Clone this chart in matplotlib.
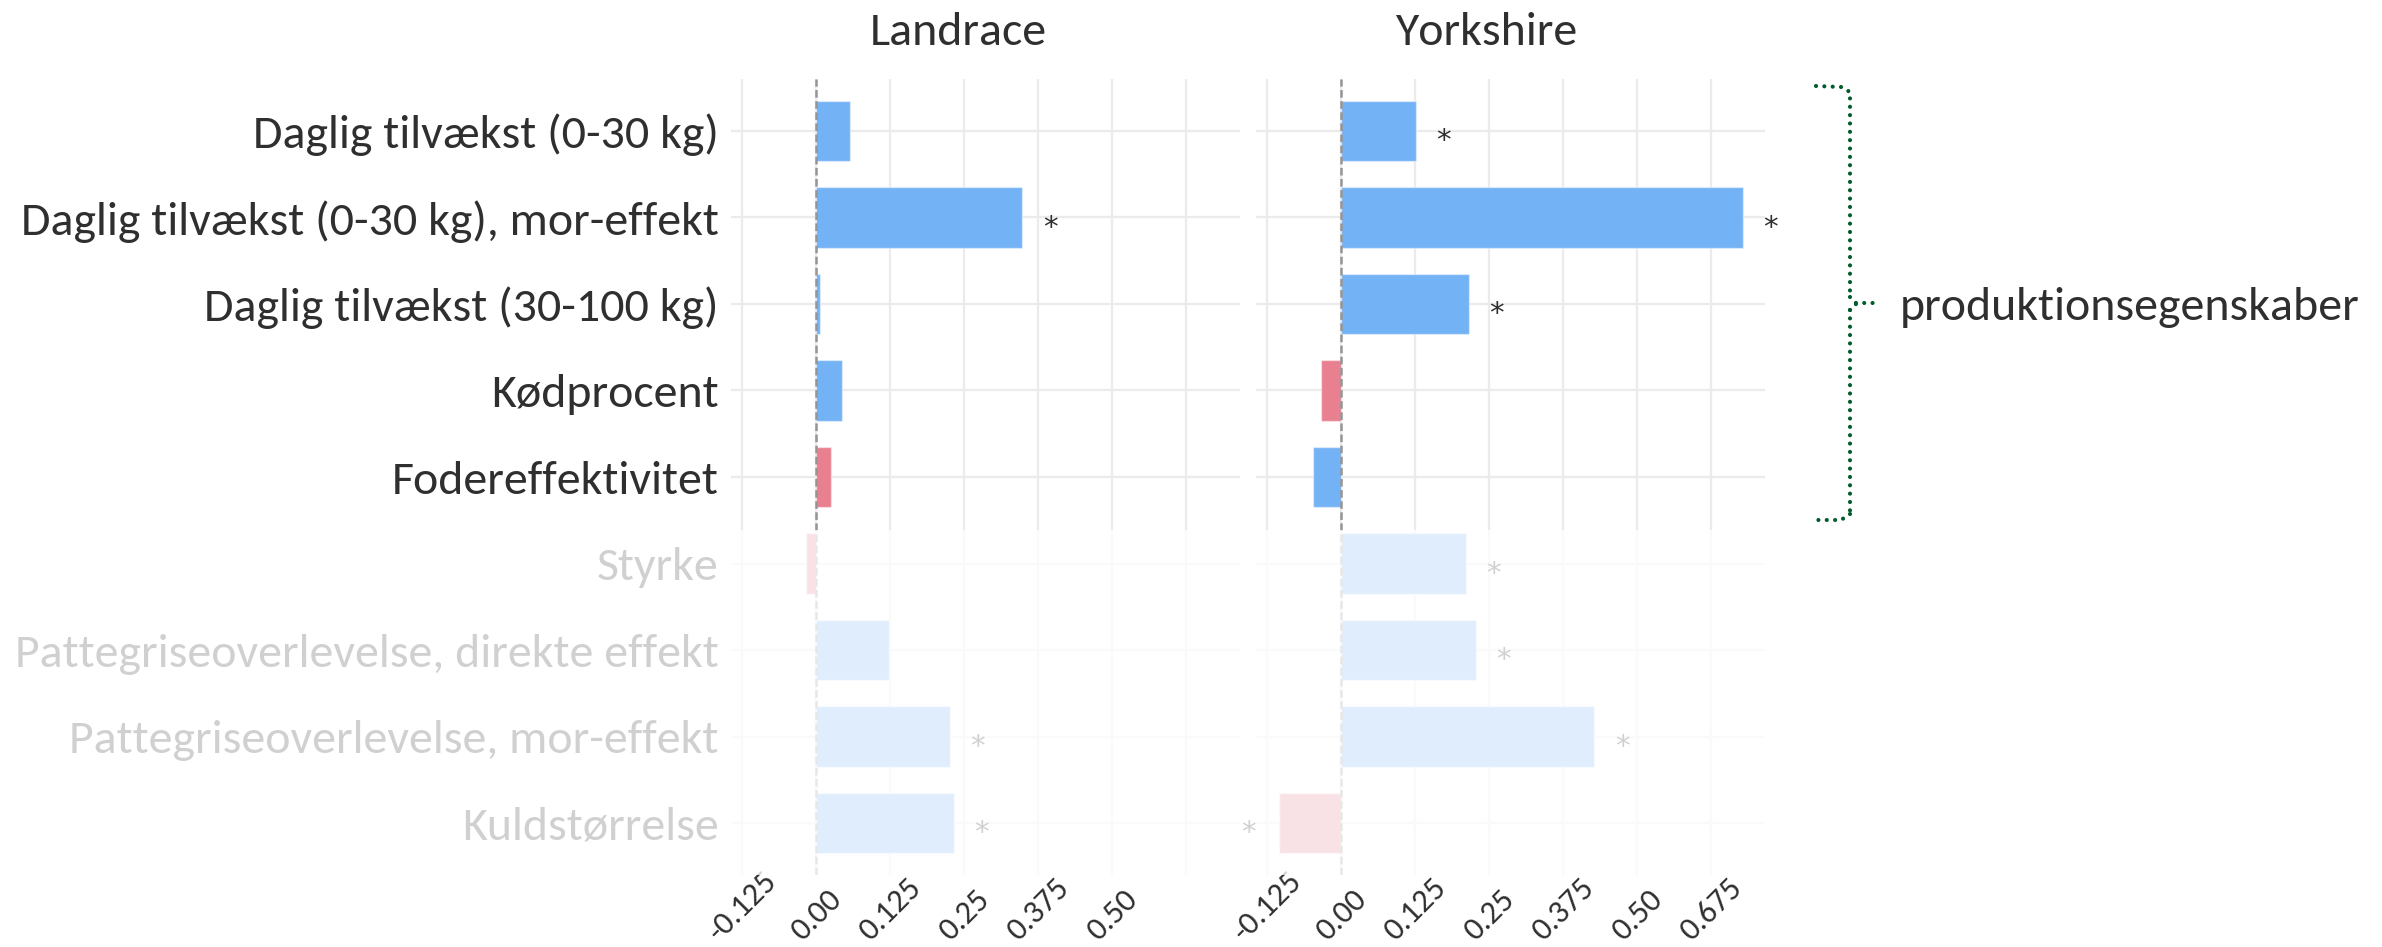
import matplotlib
matplotlib.use("Agg")
import matplotlib.pyplot as plt
from matplotlib.patches import Rectangle
from matplotlib.lines import Line2D

# ---- data -------------------------------------------------------------
traits = [
    "Daglig tilvækst (0-30 kg)",
    "Daglig tilvækst (0-30 kg), mor-effekt",
    "Daglig tilvækst (30-100 kg)",
    "Kødprocent",
    "Fodereffektivitet",
    "Styrke",
    "Pattegriseoverlevelse, direkte effekt",
    "Pattegriseoverlevelse, mor-effekt",
    "Kuldstørrelse",
]
breeds = ["Landrace", "Yorkshire"]

landrace_values = [0.057, 0.348, 0.007, 0.044, 0.025, -0.017, 0.123, 0.226, 0.233]
landrace_favourable = [True, True, True, True, False, False, True, True, True]
landrace_significant = [False, True, False, False, False, False, False, True, True]

yorkshire_values = [0.126, 0.679, 0.216, -0.034, -0.048, 0.211, 0.228, 0.428, -0.104]
yorkshire_favourable = [True, True, True, False, True, True, True, True, False]
yorkshire_significant = [True, True, True, False, False, True, True, True, True]

tick_values = [-0.125, 0.0, 0.125, 0.25, 0.375, 0.5, 0.625]
tick_labels = ["-0.125", "0.00", "0.125", "0.25", "0.375", "0.50", "0.675"]

group_label = "produktionsegenskaber"

# ---- style --------------------------------------------------------------
FONT = "Carlito"
TEXT = "#2f2f2f"
BLUE = "#74b2f6"
RED = "#e8808f"
GRID = "#ebebeb"
GREEN = "#005c2a"
BIG = 34.5

W, H = 2382, 947
plt.rcParams["font.family"] = [FONT, "DejaVu Sans"]
plt.rcParams["lines.scale_dashes"] = False
fig = plt.figure(figsize=(W / 100, H / 100), dpi=100)


def fx(px):
    return px / W


def fy(py):
    return 1 - py / H


panel_top, panel_bottom = 79, 875
panel_lefts = [731, 1256]
panel_width = 509
xlim = (-0.1436, 0.716)
ylim = (len(traits) - 1 + 0.6, -0.6)
tick_label_bottom = 946  # bottom edge of the rotated x tick labels (px)

data = [
    (landrace_values, landrace_favourable, landrace_significant),
    (yorkshire_values, yorkshire_favourable, yorkshire_significant),
]
title_centres = [958, 1486]

for i, (breed, (vals, fav, sig)) in enumerate(zip(breeds, data)):
    ax = fig.add_axes([fx(panel_lefts[i]), fy(panel_bottom), fx(panel_width),
                       (panel_bottom - panel_top) / H])
    ax.set_xlim(*xlim)
    ax.set_ylim(*ylim)
    for s in ax.spines.values():
        s.set_visible(False)
    ax.set_axisbelow(True)

    ypos = list(range(len(traits)))
    colors = [BLUE if f else RED for f in fav]
    ax.barh(ypos, vals, height=0.7, color=colors,
            edgecolor=(1, 1, 1, 0.45), linewidth=1.0, zorder=2)
    ax.axvline(0, color="#959595", lw=1.8, ls=(0, (5.5, 2.5)), zorder=3)

    for y, v, s in zip(ypos, vals, sig):
        if s:
            off = 0.047 if v >= 0 else -0.052
            ax.text(v + off, y + 0.12, "*", fontsize=21, color=TEXT,
                    ha="center", va="center", family="DejaVu Sans")

    ax.set_xticks(tick_values)
    labels = list(tick_labels)
    if i == 0:
        labels[-1] = ""
    ax.set_xticklabels(labels, rotation=45, ha="center", va="bottom",
                       fontsize=23.5, color=TEXT, family=FONT)
    ax.tick_params(axis="x", length=0,
                   pad=(tick_label_bottom - panel_bottom) * 0.72)
    ax.grid(True, axis="x", color=GRID, lw=1.6)

    ax.set_yticks(ypos)
    ax.grid(True, axis="y", color=GRID, lw=1.6)
    if i == 0:
        ax.set_yticklabels(traits, fontsize=BIG, color=TEXT, family=FONT)
        ax.tick_params(axis="y", length=0, pad=9)
    else:
        ax.set_yticklabels([])
        ax.tick_params(axis="y", length=0)

    fig.text(fx(title_centres[i]), fy(45), breed, fontsize=BIG, color=TEXT,
             ha="center", va="baseline", family=FONT)

# translucent white veil over the non-production traits
veil_top, veil_bottom, veil_right = 530, 875, 1766
fig.patches.append(Rectangle((0, fy(veil_bottom)), fx(veil_right),
                             (veil_bottom - veil_top) / H,
                             transform=fig.transFigure, facecolor="white",
                             edgecolor="none", alpha=0.78, zorder=10))

# dotted bracket around the production traits
dot = dict(color=GREEN, lw=3.0, ls=(0, (0.01, 6.0)), solid_capstyle="round",
           dash_capstyle="round", transform=fig.transFigure, zorder=11)
bx, bx0, stub = 1850, 1816, 1880
ytop, ybot, ymid = 86, 520, 303
fig.add_artist(Line2D([fx(bx0), fx(1841), fx(bx), fx(bx)],
                      [fy(ytop), fy(ytop + 1), fy(ytop + 6), fy(ymid - 7)], **dot))
fig.add_artist(Line2D([fx(bx), fx(bx)], [fy(ymid + 7), fy(ybot - 6)], **dot))
fig.add_artist(Line2D([fx(bx), fx(1841), fx(bx0)],
                      [fy(ybot - 6), fy(ybot), fy(ybot)], **dot))
fig.add_artist(Line2D([fx(bx), fx(1856), fx(stub)],
                      [fy(ymid - 6), fy(ymid), fy(ymid)], **dot))
fig.add_artist(Line2D([fx(bx), fx(1856)],
                      [fy(ymid + 7), fy(ymid + 1)], **dot))
fig.text(fx(1900), fy(ymid), group_label, fontsize=BIG, color=TEXT,
         ha="left", va="center_baseline", family=FONT)

fig.savefig("out.png", dpi=100)
